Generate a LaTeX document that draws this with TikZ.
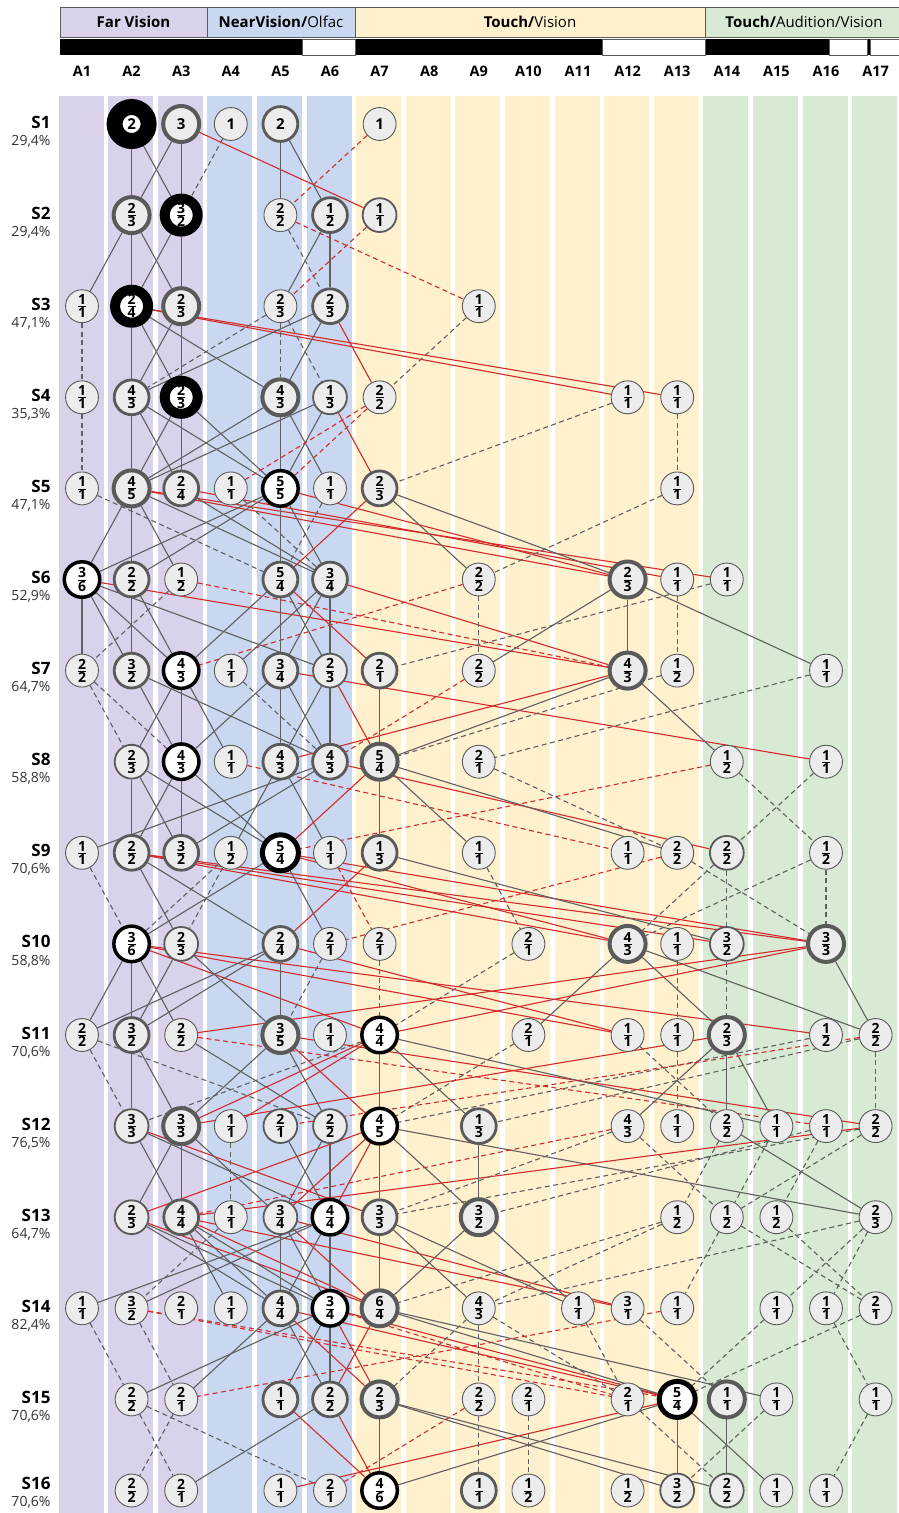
\documentclass[tikz,border=0pt]{standalone}
\usepackage{fontspec}
\setmainfont{Open Sans}
\usepackage{amsmath}
\pgfdeclarelayer{bg}
\pgfdeclarelayer{edges}
\pgfsetlayers{bg,edges,main}
\definecolor{cpur}{HTML}{D9D2EA}
\definecolor{cblu}{HTML}{C9D8F0}
\definecolor{cyel}{HTML}{FFF0CE}
\definecolor{cgrn}{HTML}{D8EAD3}
\definecolor{ngray}{HTML}{5A5A5A}
\definecolor{nfill}{HTML}{ECECEC}
\definecolor{egray}{HTML}{606060}
\definecolor{ered}{HTML}{D22B2B}
\newcommand\fr[2]{$\genfrac{}{}{0.7pt}{1}{\mbox{#1}}{\mbox{#2}}$}
\newcommand\sg[1]{{\fontsize{15}{15}\selectfont #1}}
\newcommand\nd[4]{\node[#1] (a#2s#3) at ({82+(#2-1)*49.6},{124+(#3-1)*91.1}) {#4};}
\begin{document}
\begin{tikzpicture}[x=1pt,y=-1pt,
  nbase/.style={circle,inner sep=0pt,font=\bfseries\fontsize{14}{14}\selectfont},
  n1/.style={nbase,draw=ngray,fill=nfill,line width=0.9pt,minimum size=32.9pt},
  n2/.style={nbase,draw=ngray,fill=nfill,line width=1.8pt,minimum size=33.8pt},
  n3/.style={nbase,draw=ngray,fill=nfill,line width=2.8pt,minimum size=34.8pt},
  n4/.style={nbase,draw=ngray,fill=nfill,line width=4pt,minimum size=36pt},
  nb/.style={nbase,draw=black,fill=white,line width=3.5pt,minimum size=35.5pt},
  nbb/.style={nbase,draw=black,fill=white,line width=5pt,minimum size=36pt},
  nB/.style={nbase,draw=black,fill=white,line width=10pt,minimum size=33pt},
  nBB/.style={nbase,draw=black,fill=white,line width=16pt,minimum size=34pt},
  eg/.style={draw=egray,line width=1.1pt},
  egd/.style={eg,dash pattern=on 5pt off 3.5pt},
  er/.style={draw=ered,line width=1.1pt},
  erd/.style={er,dash pattern=on 5pt off 3.5pt},
  hdr/.style={draw=ngray,line width=0.8pt},
  htxt/.style={font=\fontsize{15}{15}\selectfont},
  collab/.style={font=\bfseries\fontsize{14.5}{14.5}\selectfont},
  slab/.style={anchor=east,font=\bfseries\fontsize{17}{17}\selectfont},
  plab/.style={anchor=east,font=\fontsize{14}{14}\selectfont,text=black!80}
]
\useasboundingbox (0,0) rectangle (898,1513);
\begin{pgfonlayer}{bg}
\fill[white] (0,0) rectangle (898,1513);
\foreach \i/\c in {1/cpur,2/cpur,3/cpur,4/cblu,5/cblu,6/cblu,7/cyel,8/cyel,9/cyel,10/cyel,11/cyel,12/cyel,13/cyel,14/cgrn,15/cgrn,16/cgrn,17/cgrn}
  \fill[\c] ({81+(\i-1)*49.6-22.5},96) rectangle ({81+(\i-1)*49.6+22.5},1513);
\end{pgfonlayer}
% header
\draw[hdr,fill=cpur] (60,7) rectangle (207,37);
\draw[hdr,fill=cblu] (207,7) rectangle (355,37);
\draw[hdr,fill=cyel] (355,7) rectangle (705,37);
\draw[hdr,fill=cgrn] (705,7) rectangle (902,37);
\node[htxt] (h1) at (133.5,22) {\textbf{Far Vision}};
\node[htxt] (h2) at (281,22) {\textbf{NearVision/}Olfac};
\node[htxt] (h3) at (530,22) {\textbf{Touch/}Vision};
\node[htxt] (h4) at (804,22) {\textbf{Touch/}Audition/Vision};
\fill[black] (60,39) rectangle (898,55);
\draw[ngray,line width=0.6pt,fill=white] (302,39.5) rectangle (355,55);
\draw[ngray,line width=0.6pt,fill=white] (602,39.5) rectangle (705,55);
\draw[ngray,line width=0.6pt,fill=white] (829,39.5) rectangle (867,55);
\draw[ngray,line width=0.6pt,fill=white] (870,39.5) rectangle (900,55);
\foreach \i in {1,...,17} \node[collab] (c\i) at ({82+(\i-1)*49.6},71) {A\i};
\foreach \j/\p in {1/{29,4\%},2/{29,4\%},3/{47,1\%},4/{35,3\%},5/{47,1\%},6/{52,9\%},7/{64,7\%},8/{58,8\%},9/{70,6\%},10/{58,8\%},11/{70,6\%},12/{76,5\%},13/{64,7\%},14/{82,4\%},15/{70,6\%}}{
  \node[slab] (s\j) at (54,{124+(\j-1)*91.1-2}) {S\j};
  \node[plab] (p\j) at (54,{124+(\j-1)*91.1+17}) {\p};
}
\node[slab] (s16) at (54,1483) {S16};
\node[plab] (p16) at (54,1502) {70,6\%};
% nodes
\nd{nBB}{2}{1}{\sg2}\nd{n4}{3}{1}{\sg3}\nd{n1}{4}{1}{\sg1}\nd{n3}{5}{1}{\sg2}\nd{n1}{7}{1}{\sg1}
\nd{n4}{2}{2}{\fr23}\nd{nB}{3}{2}{\fr32}\nd{n1}{5}{2}{\fr22}\nd{n3}{6}{2}{\fr12}\nd{n2}{7}{2}{\fr11}
\nd{n1}{1}{3}{\fr11}\nd{nB}{2}{3}{\fr24}\nd{n4}{3}{3}{\fr23}\nd{n1}{5}{3}{\fr23}\nd{n3}{6}{3}{\fr23}\nd{n1}{9}{3}{\fr11}
\nd{n1}{1}{4}{\fr11}\nd{n3}{2}{4}{\fr43}\nd{nB}{3}{4}{\fr23}\nd{n4}{5}{4}{\fr43}\nd{n2}{6}{4}{\fr13}\nd{n1}{7}{4}{\fr22}\nd{n1}{12}{4}{\fr11}\nd{n1}{13}{4}{\fr11}
\nd{n1}{1}{5}{\fr11}\nd{n4}{2}{5}{\fr45}\nd{n3}{3}{5}{\fr24}\nd{n1}{4}{5}{\fr11}\nd{nb}{5}{5}{\fr55}\nd{n1}{6}{5}{\fr11}\nd{n3}{7}{5}{\fr23}\nd{n1}{13}{5}{\fr11}
\nd{nb}{1}{6}{\fr36}\nd{n3}{2}{6}{\fr22}\nd{n1}{3}{6}{\fr12}\nd{n3}{5}{6}{\fr54}\nd{n3}{6}{6}{\fr34}\nd{n1}{9}{6}{\fr22}\nd{n4}{12}{6}{\fr23}\nd{n1}{13}{6}{\fr11}\nd{n1}{14}{6}{\fr11}
\nd{n1}{1}{7}{\fr22}\nd{n3}{2}{7}{\fr32}\nd{nb}{3}{7}{\fr43}\nd{n1}{4}{7}{\fr11}\nd{n3}{5}{7}{\fr34}\nd{n2}{6}{7}{\fr23}\nd{n3}{7}{7}{\fr21}\nd{n1}{9}{7}{\fr22}\nd{n4}{12}{7}{\fr43}\nd{n1}{13}{7}{\fr12}\nd{n1}{16}{7}{\fr11}
\nd{n2}{2}{8}{\fr23}\nd{nb}{3}{8}{\fr43}\nd{n1}{4}{8}{\fr11}\nd{n3}{5}{8}{\fr43}\nd{n3}{6}{8}{\fr43}\nd{n4}{7}{8}{\fr54}\nd{n1}{9}{8}{\fr21}\nd{n1}{14}{8}{\fr12}\nd{n1}{16}{8}{\fr11}
\nd{n1}{1}{9}{\fr11}\nd{n3}{2}{9}{\fr22}\nd{n3}{3}{9}{\fr32}\nd{n1}{4}{9}{\fr12}\nd{nbb}{5}{9}{\fr54}\nd{n1}{6}{9}{\fr11}\nd{n3}{7}{9}{\fr13}\nd{n1}{9}{9}{\fr11}\nd{n1}{12}{9}{\fr11}\nd{n1}{13}{9}{\fr22}\nd{n2}{14}{9}{\fr22}\nd{n1}{16}{9}{\fr12}
\nd{nb}{2}{10}{\fr36}\nd{n2}{3}{10}{\fr23}\nd{n3}{5}{10}{\fr24}\nd{n1}{6}{10}{\fr21}\nd{n1}{7}{10}{\fr21}\nd{n1}{10}{10}{\fr21}\nd{n4}{12}{10}{\fr43}\nd{n1}{13}{10}{\fr11}\nd{n2}{14}{10}{\fr32}\nd{n4}{16}{10}{\fr33}
\nd{n1}{1}{11}{\fr22}\nd{n3}{2}{11}{\fr32}\nd{n1}{3}{11}{\fr22}\nd{n4}{5}{11}{\fr35}\nd{n1}{6}{11}{\fr11}\nd{nb}{7}{11}{\fr44}\nd{n1}{10}{11}{\fr21}\nd{n1}{12}{11}{\fr11}\nd{n1}{13}{11}{\fr11}\nd{n4}{14}{11}{\fr23}\nd{n1}{16}{11}{\fr12}\nd{n1}{17}{11}{\fr22}
\nd{n2}{2}{12}{\fr33}\nd{n4}{3}{12}{\fr33}\nd{n1}{4}{12}{\fr11}\nd{n2}{5}{12}{\fr21}\nd{n2}{6}{12}{\fr22}\nd{nb}{7}{12}{\fr45}\nd{n3}{9}{12}{\fr13}\nd{n1}{12}{12}{\fr43}\nd{n1}{13}{12}{\fr11}\nd{n1}{14}{12}{\fr22}\nd{n1}{15}{12}{\fr11}\nd{n1}{16}{12}{\fr11}\nd{n1}{17}{12}{\fr22}
\nd{n2}{2}{13}{\fr23}\nd{n3}{3}{13}{\fr44}\nd{n1}{4}{13}{\fr11}\nd{n2}{5}{13}{\fr34}\nd{nb}{6}{13}{\fr44}\nd{n3}{7}{13}{\fr33}\nd{n4}{9}{13}{\fr32}\nd{n1}{13}{13}{\fr12}\nd{n1}{14}{13}{\fr12}\nd{n1}{15}{13}{\fr12}\nd{n1}{17}{13}{\fr23}
\nd{n1}{1}{14}{\fr11}\nd{n1}{2}{14}{\fr32}\nd{n1}{3}{14}{\fr21}\nd{n1}{4}{14}{\fr11}\nd{n3}{5}{14}{\fr44}\nd{nb}{6}{14}{\fr34}\nd{n4}{7}{14}{\fr64}\nd{n1}{9}{14}{\fr43}\nd{n1}{11}{14}{\fr11}\nd{n1}{12}{14}{\fr31}\nd{n1}{13}{14}{\fr11}\nd{n1}{15}{14}{\fr11}\nd{n1}{16}{14}{\fr11}\nd{n1}{17}{14}{\fr21}
\nd{n1}{2}{15}{\fr22}\nd{n1}{3}{15}{\fr21}\nd{n3}{5}{15}{\fr11}\nd{n3}{6}{15}{\fr22}\nd{n4}{7}{15}{\fr23}\nd{n1}{9}{15}{\fr22}\nd{n1}{10}{15}{\fr21}\nd{n1}{12}{15}{\fr21}\nd{nbb}{13}{15}{\fr54}\nd{n4}{14}{15}{\fr11}\nd{n1}{15}{15}{\fr11}\nd{n1}{17}{15}{\fr11}
\nd{n1}{2}{16}{\fr22}\nd{n1}{3}{16}{\fr21}\nd{n1}{5}{16}{\fr11}\nd{n1}{6}{16}{\fr21}\nd{nb}{7}{16}{\fr46}\nd{n3}{9}{16}{\fr11}\nd{n1}{10}{16}{\fr12}\nd{n1}{12}{16}{\fr12}\nd{n2}{13}{16}{\fr32}\nd{n2}{14}{16}{\fr22}\nd{n1}{15}{16}{\fr11}\nd{n1}{16}{16}{\fr11}
% edges
\begin{pgfonlayer}{edges}
\foreach \st/\p/\q in {eg/a2s1/a2s2, eg/a2s1/a3s2, eg/a3s1/a2s2, eg/a3s1/a3s2, egd/a4s1/a3s2, er/a3s1/a7s2, eg/a5s1/a5s2, eg/a5s1/a6s2, erd/a7s1/a5s2,
eg/a2s2/a1s3, eg/a2s2/a2s3, eg/a2s2/a3s3, eg/a3s2/a2s3, eg/a3s2/a3s3, erd/a5s2/a9s3, egd/a5s2/a6s3, eg/a6s2/a5s3, eg/a6s2/a6s3, erd/a7s2/a5s3,
egd/a1s3/a1s4, eg/a2s3/a2s4, er/a2s3/a12s4, er/a2s3/a13s4, eg/a2s3/a3s4, eg/a2s3/a5s4, eg/a3s3/a2s4, eg/a3s3/a3s4, egd/a5s3/a2s4, eg/a6s3/a2s4, egd/a5s3/a5s4, egd/a5s3/a6s4, eg/a6s3/a5s4, er/a6s3/a7s4, egd/a9s3/a7s4,
egd/a1s4/a1s5, eg/a2s4/a2s5, eg/a2s4/a3s5, eg/a2s4/a5s5, eg/a3s4/a2s5, eg/a3s4/a3s5, eg/a3s4/a5s5, eg/a5s4/a2s5, eg/a6s4/a2s5, eg/a5s4/a5s5, eg/a5s4/a6s5, eg/a6s4/a5s5, er/a6s4/a7s5, erd/a7s4/a4s5, erd/a7s4/a5s5, egd/a12s4/a7s5, egd/a13s4/a13s5}%
{\draw[\st] (\p) -- (\q);}
\foreach \st/\p/\q in {egd/a1s5/a5s6, eg/a2s5/a1s6, eg/a2s5/a2s6, eg/a2s5/a3s6, er/a2s5/a12s6, er/a2s5/a14s6, er/a3s5/a13s6, er/a5s5/a12s6, eg/a2s5/a6s6, eg/a3s5/a6s6, eg/a5s5/a1s6, eg/a5s5/a2s6, eg/a5s5/a5s6, eg/a5s5/a6s6, egd/a6s5/a5s6, egd/a4s5/a6s6, er/a7s5/a5s6, eg/a7s5/a12s6, eg/a7s5/a9s6, egd/a13s5/a9s6,
eg/a1s6/a1s7, eg/a1s6/a2s7, eg/a1s6/a3s7, eg/a1s6/a6s7, er/a1s6/a12s7, eg/a2s6/a2s7, eg/a2s6/a3s7, erd/a3s6/a12s7, egd/a3s6/a1s7, erd/a9s6/a3s7, eg/a5s6/a3s7, eg/a6s6/a4s7, eg/a5s6/a5s7, eg/a5s6/a6s7, er/a5s6/a7s7, eg/a6s6/a5s7, eg/a6s6/a6s7, er/a6s6/a12s7, eg/a12s6/a12s7, eg/a12s6/a9s7, eg/a12s6/a16s7, egd/a13s6/a13s7, egd/a14s6/a7s7, egd/a9s6/a9s7,
egd/a1s7/a2s8, egd/a1s7/a3s8, eg/a2s7/a3s8, eg/a2s7/a6s8, eg/a3s7/a2s8, eg/a3s7/a3s8, eg/a3s7/a4s8, egd/a4s7/a6s8, eg/a5s7/a3s8, eg/a5s7/a5s8, eg/a5s7/a6s8, er/a5s7/a16s8, eg/a6s7/a5s8, eg/a6s7/a6s8, er/a6s7/a7s8, er/a12s7/a5s8, eg/a7s7/a7s8, erd/a9s7/a6s8, eg/a12s7/a7s8, eg/a12s7/a14s8, egd/a13s7/a7s8, egd/a16s7/a9s8}%
{\draw[\st] (\p) -- (\q);}
\foreach \st/\p/\q in {eg/a2s8/a2s9, eg/a2s8/a3s9, eg/a2s8/a5s9, eg/a3s8/a2s9, eg/a3s8/a3s9, eg/a3s8/a5s9, erd/a4s8/a12s9, eg/a6s8/a1s9, eg/a6s8/a3s9, eg/a5s8/a4s9, eg/a5s8/a6s9, er/a6s8/a14s9, er/a7s8/a5s9, eg/a7s8/a7s9, eg/a7s8/a9s9, eg/a7s8/a13s9, egd/a9s8/a13s9, egd/a14s8/a16s9, egd/a16s8/a14s9, erd/a14s8/a5s9,
egd/a1s9/a2s10, eg/a2s9/a3s10, eg/a2s9/a5s10, er/a2s9/a12s10, er/a2s9/a14s10, er/a2s9/a16s10, egd/a4s9/a2s10, egd/a4s9/a3s10, eg/a5s9/a2s10, eg/a5s9/a6s10, er/a5s9/a12s10, er/a5s9/a16s10, erd/a6s9/a7s10, er/a7s9/a5s10, eg/a7s9/a14s10, egd/a9s9/a10s10, egd/a13s9/a16s10, erd/a13s9/a6s10, egd/a14s9/a14s10, egd/a14s9/a12s10, egd/a16s9/a16s10, egd/a16s9/a12s10,
eg/a2s10/a1s11, eg/a2s10/a2s11, eg/a2s10/a3s11, er/a2s10/a7s11, er/a2s10/a12s11, er/a2s10/a16s11, eg/a3s10/a2s11, eg/a3s10/a5s11, eg/a5s10/a1s11, eg/a5s10/a2s11, eg/a5s10/a5s11, er/a5s10/a12s11, egd/a6s10/a5s11, egd/a7s10/a7s11, egd/a10s10/a7s11, eg/a12s10/a10s11, eg/a12s10/a14s11, eg/a12s10/a17s11, egd/a13s10/a13s11, egd/a14s10/a14s11, eg/a16s10/a17s11, er/a16s10/a3s11, er/a16s10/a7s11}%
{\draw[\st] (\p) -- (\q);}
\foreach \st/\p/\q in {egd/a1s11/a2s12, egd/a1s11/a6s12, eg/a2s11/a2s12, eg/a2s11/a3s12, eg/a3s11/a6s12, erd/a3s11/a16s12, egd/a7s11/a2s12, eg/a5s11/a3s12, eg/a5s11/a6s12, er/a5s11/a7s12, er/a5s11/a17s12, er/a7s11/a3s12, er/a7s11/a4s12, eg/a7s11/a7s12, eg/a7s11/a15s12, eg/a7s11/a9s12, egd/a10s11/a7s12, egd/a12s11/a14s12, egd/a13s11/a13s12, eg/a14s11/a12s12, eg/a14s11/a14s12, eg/a14s11/a15s12, er/a14s11/a3s12, egd/a16s11/a7s12, egd/a17s11/a17s12, erd/a17s11/a5s12, egd/a17s11/a9s12,
eg/a2s12/a3s13, eg/a2s12/a6s13, er/a2s12/a7s13, eg/a3s12/a2s13, eg/a3s12/a3s13, eg/a3s12/a5s13, egd/a4s12/a4s13, eg/a5s12/a6s13, eg/a6s12/a5s13, eg/a6s12/a6s13, er/a7s12/a5s13, er/a7s12/a6s13, eg/a7s12/a7s13, eg/a7s12/a17s13, eg/a7s12/a9s13, er/a7s12/a2s13, er/a17s12/a3s13, erd/a12s12/a3s13, eg/a9s12/a9s13, egd/a12s12/a7s13, egd/a12s12/a14s13, egd/a14s12/a13s13, eg/a14s12/a17s13, egd/a15s12/a14s13, egd/a16s12/a15s13, egd/a17s12/a14s13, egd/a17s12/a7s13, egd/a16s12/a9s13}%
{\draw[\st] (\p) -- (\q);}
\foreach \st/\p/\q in {eg/a2s13/a5s14, eg/a2s13/a6s14, er/a2s13/a7s14, er/a3s13/a7s14, er/a3s13/a12s14, eg/a3s13/a4s14, eg/a3s13/a5s14, eg/a3s13/a6s14, egd/a4s13/a2s14, eg/a5s13/a5s14, eg/a5s13/a6s14, er/a5s13/a12s14, er/a5s13/a7s14, eg/a6s13/a1s14, eg/a6s13/a2s14, eg/a6s13/a5s14, eg/a6s13/a6s14, eg/a7s13/a7s14, eg/a7s13/a9s14, eg/a7s13/a11s14, eg/a9s13/a7s14, eg/a9s13/a11s14, egd/a13s13/a9s14, egd/a13s13/a7s14, egd/a14s13/a13s14, egd/a14s13/a17s14, egd/a15s13/a17s14, egd/a17s13/a9s14, egd/a17s13/a15s14, egd/a17s13/a16s14,
egd/a1s14/a2s15, egd/a2s14/a3s15, erd/a2s14/a13s15, erd/a2s14/a12s15, eg/a6s14/a2s15, eg/a5s14/a3s15, eg/a5s14/a6s15, er/a5s14/a7s15, er/a5s14/a13s15, eg/a6s14/a5s15, eg/a6s14/a6s15, er/a6s14/a7s15, er/a6s14/a13s15, erd/a6s14/a12s15, er/a7s14/a6s15, eg/a7s14/a13s15, eg/a7s14/a15s15, egd/a9s14/a9s15, egd/a9s14/a7s15, egd/a9s14/a12s15, egd/a11s14/a12s15, egd/a12s14/a14s15, erd/a13s14/a3s15, egd/a15s14/a13s15, egd/a16s14/a17s15, egd/a17s14/a13s15,
egd/a2s15/a3s16, egd/a2s15/a6s16, egd/a3s15/a2s16, er/a5s15/a7s16, eg/a6s15/a3s16, er/a6s15/a7s16, eg/a7s15/a7s16, eg/a7s15/a13s16, eg/a7s15/a14s16, er/a13s15/a5s16, eg/a13s15/a7s16, erd/a9s15/a6s16, egd/a9s15/a9s16, egd/a10s15/a10s16, egd/a12s15/a14s16, eg/a13s15/a13s16, eg/a13s15/a15s16, eg/a14s15/a14s16, egd/a15s15/a13s16, egd/a17s15/a16s16}%
{\draw[\st] (\p) -- (\q);}
\end{pgfonlayer}
\end{tikzpicture}
\end{document}
